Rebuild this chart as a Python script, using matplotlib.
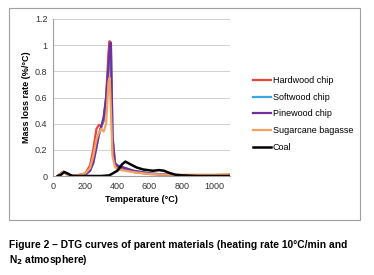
import matplotlib
matplotlib.use("Agg")
import matplotlib.pyplot as plt
from matplotlib.patches import Rectangle

plt.rcParams['font.family'] = ['Liberation Sans', 'DejaVu Sans']

# Data
T = [30, 50, 65, 80, 100, 150, 200, 230, 250, 270, 285, 300, 315, 330, 345, 352, 360, 370, 385, 400, 450, 500, 600, 700, 800, 900, 1000, 1100]
hardwood = [0.0, 0.02, 0.035, 0.02, 0.005, 0.005, 0.02, 0.08, 0.2, 0.36, 0.39, 0.38, 0.42, 0.6, 0.95, 1.03, 0.7, 0.2, 0.09, 0.07, 0.05, 0.03, 0.015, 0.01, 0.005, 0.005, 0.005, 0.005]
softwood = [0.0, 0.02, 0.03, 0.02, 0.005, 0.005, 0.01, 0.04, 0.1, 0.22, 0.31, 0.37, 0.44, 0.58, 0.82, 0.97, 0.95, 0.3, 0.1, 0.08, 0.06, 0.04, 0.02, 0.01, 0.005, 0.005, 0.005, 0.005]
pinewood = [0.0, 0.02, 0.03, 0.02, 0.005, 0.005, 0.01, 0.04, 0.1, 0.22, 0.32, 0.38, 0.45, 0.6, 0.85, 1.0, 1.02, 0.3, 0.1, 0.08, 0.06, 0.04, 0.02, 0.01, 0.005, 0.005, 0.005, 0.005]
sugarcane = [0.0, 0.02, 0.03, 0.02, 0.005, 0.005, 0.02, 0.06, 0.15, 0.28, 0.33, 0.36, 0.34, 0.4, 0.72, 0.75, 0.5, 0.15, 0.07, 0.05, 0.04, 0.03, 0.015, 0.01, 0.01, 0.01, 0.01, 0.015]

T_coal = [30, 50, 70, 90, 120, 200, 300, 350, 400, 430, 450, 480, 520, 560, 620, 660, 690, 720, 760, 800, 900, 1000, 1100]
coal = [0.0, 0.01, 0.03, 0.02, 0.0, 0.0, 0.0, 0.005, 0.04, 0.09, 0.11, 0.09, 0.065, 0.05, 0.04, 0.045, 0.04, 0.025, 0.01, 0.005, 0.0, 0.0, 0.0]

labels = ["Hardwood chip", "Softwood chip", "Pinewood chip", "Sugarcane bagasse", "Coal"]
colors = ["#e8463c", "#3aa8e0", "#7030a0", "#f4a261", "#000000"]

fig = plt.figure(figsize=(3.74, 2.75), dpi=100)
fig.patches.append(Rectangle((9/374, 1-220/275), 351/374, 212/275, transform=fig.transFigure,
                             fill=False, edgecolor="#a0a0a0", linewidth=0.8))
ax = fig.add_axes([53/374, 1-176/275, 177/374, 157/275])

series = [(T, hardwood), (T, softwood), (T, pinewood), (T, sugarcane), (T_coal, coal)]
for (x, y), lab, c in zip(series, labels, colors):
    ax.plot(x, y, color=c, lw=1.6 if lab != "Coal" else 1.8, label=lab)

ax.set_xlim(0, 1100)
ax.set_ylim(0, 1.2)
ax.set_xticks([0, 200, 400, 600, 800, 1000])
ax.set_yticks([0, 0.2, 0.4, 0.6, 0.8, 1.0, 1.2])
ax.set_yticklabels(["0", "0.2", "0.4", "0.6", "0.8", "1", "1.2"])
ax.tick_params(length=0, labelsize=6.5, colors="#333333", pad=4)
ax.grid(axis='y', color="#d0d0d0", lw=0.7)
ax.set_axisbelow(True)
for s in ["top", "right"]:
    ax.spines[s].set_visible(False)
for s in ["left", "bottom"]:
    ax.spines[s].set_color("#a0a0a0")
    ax.spines[s].set_linewidth(0.8)
ax.set_xlabel("Temperature (°C)", fontsize=6.5, fontweight="bold", labelpad=3)
ax.set_ylabel("Mass loss rate (%/°C)", fontsize=6.5, fontweight="bold", labelpad=3)

ax.legend(loc="upper left", bbox_to_anchor=(1.11, 0.66), frameon=False, fontsize=6.5,
          handlelength=2.0, handletextpad=0.2, labelspacing=0.85, borderaxespad=0)

fig.text(9/374, 1-245/275, "Figure 2 – DTG curves of parent materials (heating rate 10°C/min and",
         fontsize=7.4, fontweight="bold", va="center", ha="left")
fig.text(9/374, 1-260/275, "N$_\\mathbf{2}$ atmosphere)",
         fontsize=7.4, fontweight="bold", va="center", ha="left")

fig.savefig("out.png", dpi=100)
